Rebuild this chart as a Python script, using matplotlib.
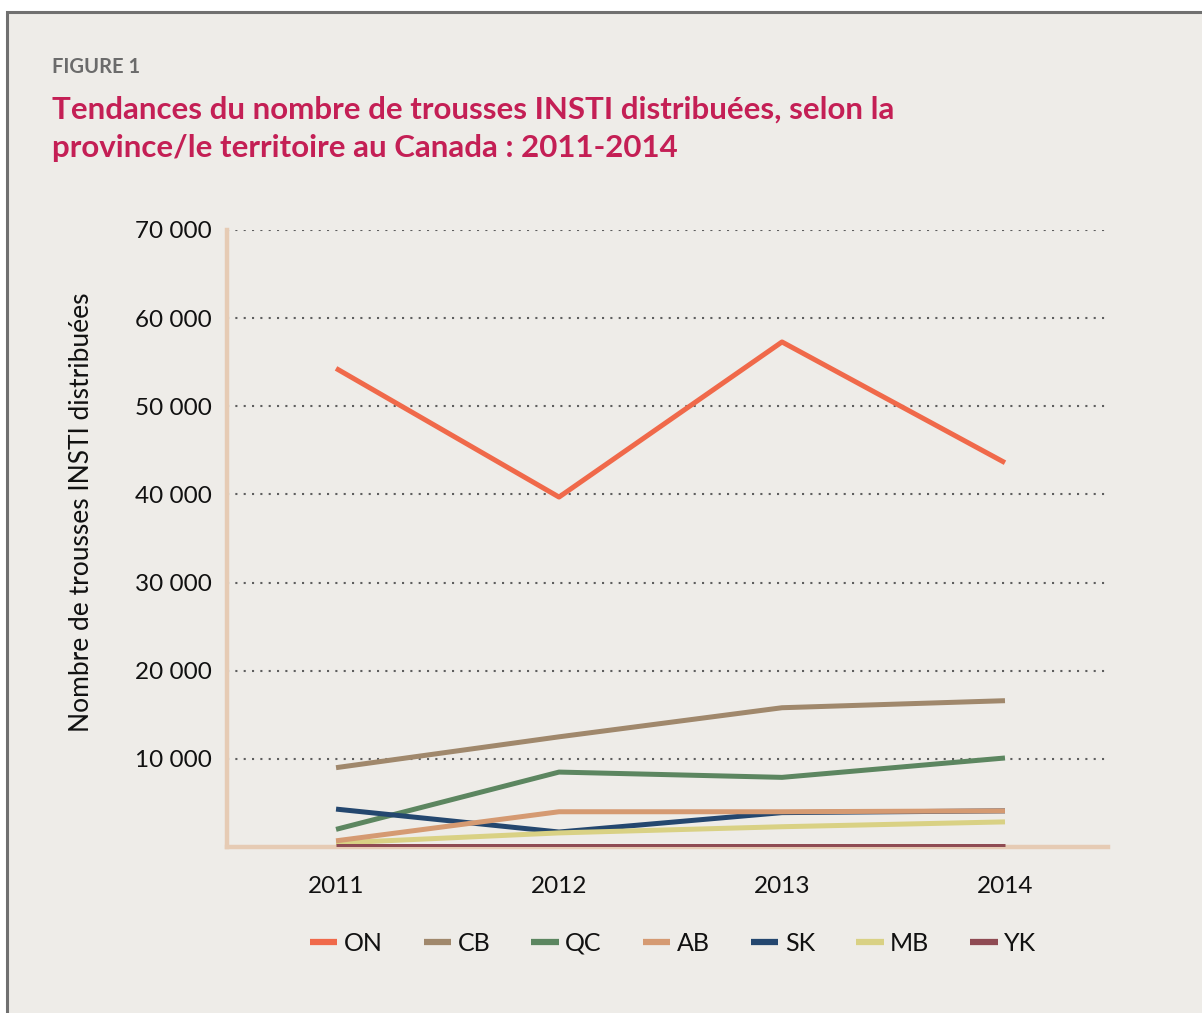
import matplotlib
matplotlib.use("Agg")
import matplotlib.pyplot as plt
from matplotlib.ticker import FuncFormatter, FixedLocator
from matplotlib.patches import Rectangle

plt.rcParams['font.family'] = ['Lato', 'DejaVu Sans']

years = [2011, 2012, 2013, 2014]
series_names = ["ON", "CB", "QC", "AB", "SK", "MB", "YK"]
on_vals = [54300, 39700, 57300, 43600]
cb_vals = [9000, 12500, 15800, 16600]
qc_vals = [2000, 8500, 7900, 10100]
ab_vals = [700, 4000, 4000, 4100]
sk_vals = [4300, 1700, 3900, 4100]
mb_vals = [450, 1600, 2300, 2850]
yk_vals = [150, 150, 150, 150]
y_ticks = [10000, 20000, 30000, 40000, 50000, 60000, 70000]

colors = {
    "ON": "#F0694A",
    "CB": "#A0886C",
    "QC": "#5C8660",
    "AB": "#D59A72",
    "SK": "#24476F",
    "MB": "#D9D184",
    "YK": "#8F4B53",
}
values = {"ON": on_vals, "CB": cb_vals, "QC": qc_vals, "AB": ab_vals,
          "SK": sk_vals, "MB": mb_vals, "YK": yk_vals}

bg = "#EEECE8"
W, H = 1202, 1013
fig = plt.figure(figsize=(W / 100, H / 100), dpi=100, facecolor="white")

# panel background with grey frame
fig.add_artist(Rectangle((7 / W, -0.05), 1.2, 1 - 11.5 / H + 0.05,
                         transform=fig.transFigure, facecolor=bg,
                         edgecolor="#707070", linewidth=2.2, zorder=0))

ax = fig.add_axes([227 / W, 1 - 847 / H, (1108 - 227) / W, (847 - 230) / H])
ax.set_facecolor(bg)
ax.patch.set_alpha(0)

draw_order = ["ON", "CB", "QC", "SK", "MB", "AB", "YK"]
handles = {}
for name in draw_order:
    ln, = ax.plot(years, values[name], color=colors[name], lw=3.6,
                  solid_capstyle="butt", label=name, zorder=3)
    handles[name] = ln

ax.set_xlim(2010.511, 2014.462)
ax.set_ylim(0, 70000)
ax.yaxis.set_major_locator(FixedLocator(y_ticks))
ax.xaxis.set_major_locator(FixedLocator(years))
ax.yaxis.set_major_formatter(FuncFormatter(lambda v, p: f"{int(v):,}".replace(",", " ")))
ax.grid(axis="y", color="#5E5E5E", linestyle=(0, (1, 3.0)), linewidth=1.5, zorder=1)
ax.tick_params(axis="both", length=0, labelsize=17.5, colors="#111111")
ax.tick_params(axis="y", pad=11)
ax.tick_params(axis="x", pad=21)

for s in ["top", "right"]:
    ax.spines[s].set_visible(False)
for s in ["left", "bottom"]:
    ax.spines[s].set_color("#E6CBB4")
    ax.spines[s].set_linewidth(3.2)
    ax.spines[s].set_zorder(2)

fig.text(82 / W, 1 - 512 / H, "Nombre de trousses INSTI distribuées",
         rotation=90, ha="center", va="center", fontsize=19, color="#111111")

fig.text(52 / W, 1 - 67 / H, "FIGURE 1", fontsize=14.5, fontweight="bold",
         color="#6B6B6B", ha="left", va="center")
fig.text(52 / W, 1 - 110 / H, "Tendances du nombre de trousses INSTI distribuées, selon la",
         fontsize=22.5, fontweight="bold", color="#C41F55", ha="left", va="center")
fig.text(52 / W, 1 - 148 / H, "province/le territoire au Canada : 2011-2014",
         fontsize=22.5, fontweight="bold", color="#C41F55", ha="left", va="center")

leg = fig.legend([handles[n] for n in series_names], series_names,
                 loc="center", bbox_to_anchor=(673 / W, 1 - 943 / H), ncol=7,
                 frameon=False, fontsize=18, handlelength=1.1, handletextpad=0.25,
                 columnspacing=1.65)
for t in leg.get_texts():
    t.set_color("#111111")
for lh in leg.get_lines():
    lh.set_linewidth(4.5)

fig.savefig("out.png", dpi=100, facecolor="white")
